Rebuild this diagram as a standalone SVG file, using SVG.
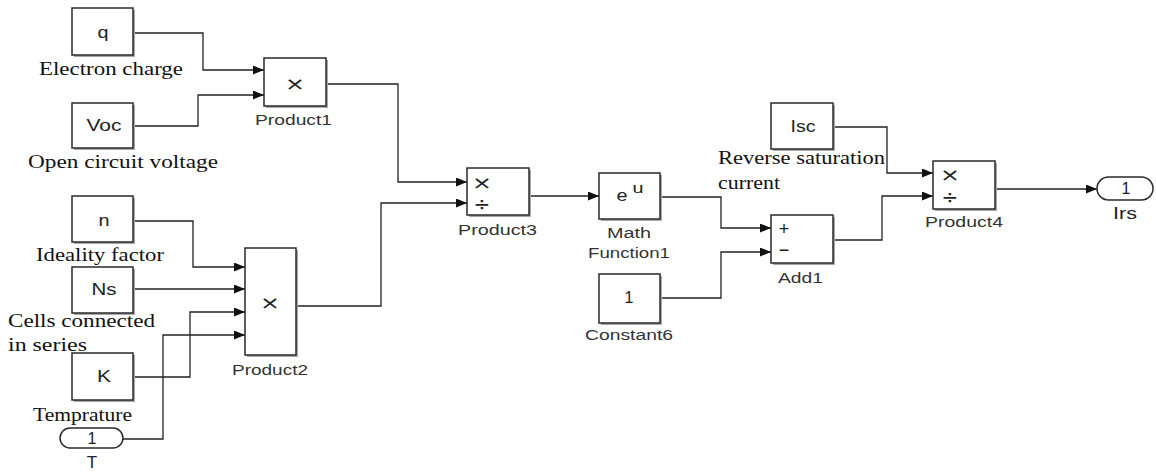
<svg xmlns="http://www.w3.org/2000/svg" width="1156" height="473" viewBox="0 0 1156 473">
<style>
.sh{fill:#a8a8a8}
.bx{fill:#fff;stroke:#2a2a2a;stroke-width:1.5}
.in{font-family:"Liberation Sans",Arial,sans-serif;font-size:16px;fill:#222;text-anchor:middle}
.sym{font-family:"DejaVu Sans","Liberation Sans",sans-serif;font-size:18px;fill:#222;text-anchor:middle}
.div{font-family:"DejaVu Sans","Liberation Sans",sans-serif;font-size:20px;fill:#222;text-anchor:middle}
.lbl{font-family:"Liberation Sans",Arial,sans-serif;font-size:14px;fill:#333}
.note{font-family:"Liberation Serif","Times New Roman",serif;font-size:19px;fill:#111}
.w{fill:none;stroke:#222;stroke-width:1.3;marker-end:url(#ar)}
</style>
<defs>
<marker id="ar" markerUnits="userSpaceOnUse" markerWidth="11" markerHeight="9" refX="11" refY="4.5" orient="auto">
<path d="M0,0 L11,4.5 L0,9 z" fill="#111"/>
</marker>
</defs>
<rect width="1156" height="473" fill="#fff"/>

<g id="connectors">
<path class="w" d="M133,33 H203 V70 H264"/>
<path class="w" d="M133,126 H198 V95 H264"/>
<path class="w" d="M326,84 H398 V182 H467"/>
<path class="w" d="M133,221 H193 V267 H245"/>
<path class="w" d="M133,289 H245"/>
<path class="w" d="M133,377 H190 V312 H245"/>
<path class="w" d="M123,439 H163 V335 H245"/>
<path class="w" d="M296,306 H381 V203 H467"/>
<path class="w" d="M529,196 H599"/>
<path class="w" d="M660,197 H721 V228 H771"/>
<path class="w" d="M660,298 H721 V252 H771"/>
<path class="w" d="M833,127 H887 V173 H933"/>
<path class="w" d="M833,240 H882 V196 H933"/>
<path class="w" d="M995,189 H1097"/>
</g>

<g id="q">
<rect class="sh" x="74" y="10" width="61" height="47"/>
<rect class="bx" x="72" y="8" width="61" height="47"/>
<text class="in" x="103" y="38" textLength="11" lengthAdjust="spacingAndGlyphs">q</text>
<text class="note" x="39" y="75" textLength="144" lengthAdjust="spacingAndGlyphs">Electron charge</text>
</g>
<g id="Voc">
<rect class="sh" x="74" y="105" width="61" height="45"/>
<rect class="bx" x="72" y="103" width="61" height="45"/>
<text class="in" x="104" y="131" textLength="35" lengthAdjust="spacingAndGlyphs">Voc</text>
<text class="note" x="28" y="168" textLength="190" lengthAdjust="spacingAndGlyphs">Open circuit voltage</text>
</g>
<g id="Product1">
<rect class="sh" x="266" y="60" width="62" height="48"/>
<rect class="bx" x="264" y="58" width="62" height="48"/>
<text class="sym" x="295" y="90" textLength="20" lengthAdjust="spacingAndGlyphs">×</text>
<text class="lbl" x="255" y="125" textLength="77" lengthAdjust="spacingAndGlyphs">Product1</text>
</g>
<g id="n">
<rect class="sh" x="74" y="198" width="61" height="46"/>
<rect class="bx" x="72" y="196" width="61" height="46"/>
<text class="in" x="104" y="226" textLength="11" lengthAdjust="spacingAndGlyphs">n</text>
<text class="note" x="36" y="261" textLength="128" lengthAdjust="spacingAndGlyphs">Ideality factor</text>
</g>
<g id="Ns">
<rect class="sh" x="74" y="269" width="61" height="46"/>
<rect class="bx" x="72" y="267" width="61" height="46"/>
<text class="in" x="104" y="295" textLength="25" lengthAdjust="spacingAndGlyphs">Ns</text>
<text class="note" x="8" y="327" textLength="147" lengthAdjust="spacingAndGlyphs">Cells connected</text>
<text class="note" x="8" y="351" textLength="79" lengthAdjust="spacingAndGlyphs">in series</text>
</g>
<g id="K">
<rect class="sh" x="74" y="355" width="61" height="47"/>
<rect class="bx" x="72" y="353" width="61" height="47"/>
<text class="in" x="104" y="382" textLength="14" lengthAdjust="spacingAndGlyphs">K</text>
<text class="note" x="33" y="421" textLength="99" lengthAdjust="spacingAndGlyphs">Temprature</text>
</g>
<g id="T">
<rect class="bx" x="60" y="428" width="63" height="20" rx="10"/>
<text class="in" x="92" y="444">1</text>
<text class="in" x="92" y="468" style="font-size:17px">T</text>
</g>
<g id="Product2">
<rect class="sh" x="247" y="250" width="51" height="107"/>
<rect class="bx" x="245" y="248" width="51" height="107"/>
<text class="sym" x="270" y="308.5" textLength="20" lengthAdjust="spacingAndGlyphs">×</text>
<text class="lbl" x="232" y="375" textLength="76" lengthAdjust="spacingAndGlyphs">Product2</text>
</g>
<g id="Product3">
<rect class="sh" x="469" y="170" width="62" height="47"/>
<rect class="bx" x="467" y="168" width="62" height="47"/>
<text class="sym" x="482" y="188.5" textLength="20" lengthAdjust="spacingAndGlyphs">×</text>
<text class="div" x="482" y="211">÷</text>
<text class="lbl" x="458" y="235" textLength="79" lengthAdjust="spacingAndGlyphs">Product3</text>
</g>
<g id="MathFunction1">
<rect class="sh" x="601" y="175" width="61" height="46"/>
<rect class="bx" x="599" y="173" width="61" height="46"/>
<text class="in" x="622" y="201" textLength="11" lengthAdjust="spacingAndGlyphs">e</text>
<text class="in" x="638" y="193" style="font-size:14px" textLength="11" lengthAdjust="spacingAndGlyphs">u</text>
<text class="lbl" x="607" y="238" textLength="44" lengthAdjust="spacingAndGlyphs">Math</text>
<text class="lbl" x="588" y="258" textLength="82" lengthAdjust="spacingAndGlyphs">Function1</text>
</g>
<g id="Constant6">
<rect class="sh" x="601" y="276" width="61" height="49"/>
<rect class="bx" x="599" y="274" width="61" height="49"/>
<text class="in" x="629" y="303">1</text>
<text class="lbl" x="585" y="340" textLength="88" lengthAdjust="spacingAndGlyphs">Constant6</text>
</g>
<g id="Isc">
<rect class="sh" x="773" y="105" width="62" height="46"/>
<rect class="bx" x="771" y="103" width="62" height="46"/>
<text class="in" x="803" y="132" textLength="25" lengthAdjust="spacingAndGlyphs">Isc</text>
<text class="note" x="718" y="164" textLength="167" lengthAdjust="spacingAndGlyphs">Reverse saturation</text>
<text class="note" x="718" y="189" textLength="62" lengthAdjust="spacingAndGlyphs">current</text>
</g>
<g id="Add1">
<rect class="sh" x="773" y="217" width="62" height="48"/>
<rect class="bx" x="771" y="215" width="62" height="48"/>
<text class="in" x="784" y="235" style="font-size:18px">+</text>
<text class="in" x="784" y="256" style="font-size:18px">−</text>
<text class="lbl" x="778" y="283" textLength="45" lengthAdjust="spacingAndGlyphs">Add1</text>
</g>
<g id="Product4">
<rect class="sh" x="935" y="163" width="62" height="48"/>
<rect class="bx" x="933" y="161" width="62" height="48"/>
<text class="sym" x="950" y="180.5" textLength="20" lengthAdjust="spacingAndGlyphs">×</text>
<text class="div" x="950" y="204">÷</text>
<text class="lbl" x="925" y="227" textLength="78" lengthAdjust="spacingAndGlyphs">Product4</text>
</g>
<g id="Irs">
<rect class="bx" x="1097" y="177" width="56" height="23" rx="11.5"/>
<text class="in" x="1126" y="194">1</text>
<text class="in" x="1125" y="219" textLength="24" lengthAdjust="spacingAndGlyphs">Irs</text>
</g>
</svg>
